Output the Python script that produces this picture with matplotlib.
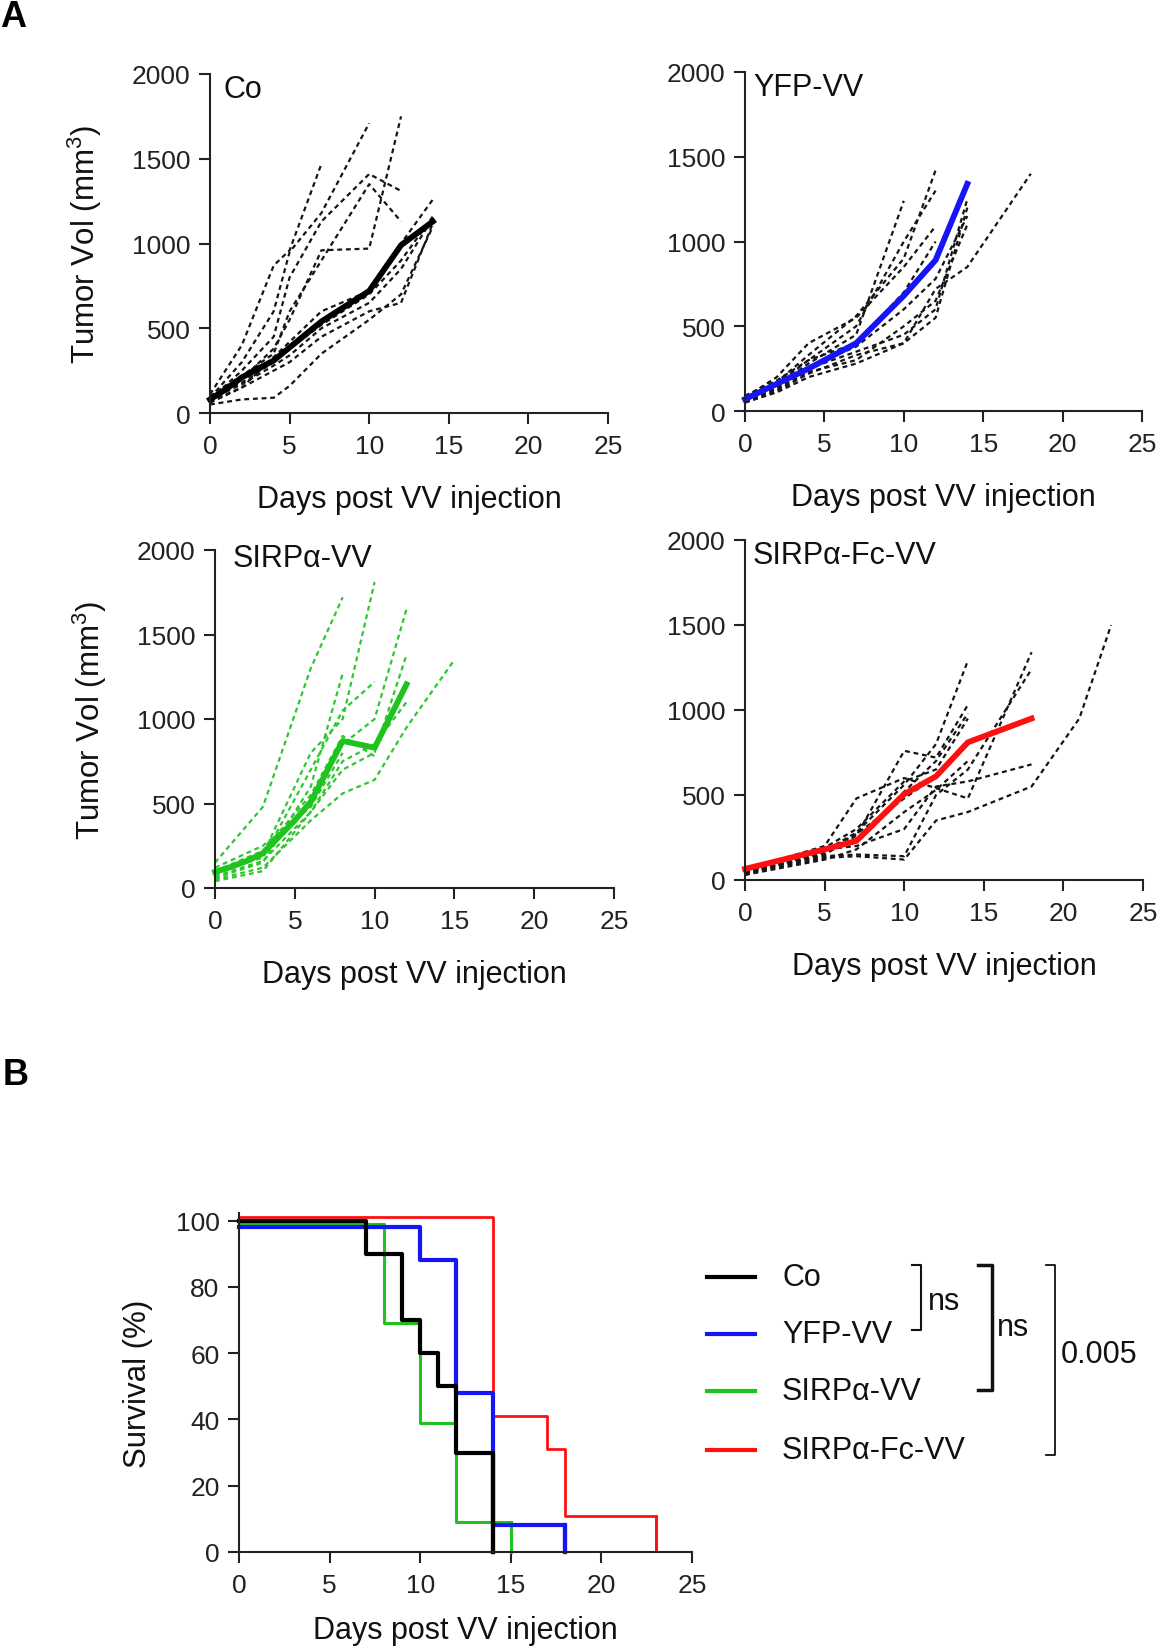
import numpy as np
import matplotlib
matplotlib.use("Agg")
import matplotlib.pyplot as plt

plt.rcParams['font.family'] = ['Liberation Sans', 'DejaVu Sans']
plt.rcParams['mathtext.fontset'] = 'custom'
plt.rcParams['mathtext.rm'] = 'Liberation Sans'
plt.rcParams['mathtext.it'] = 'Liberation Sans:italic'
plt.rcParams['mathtext.default'] = 'regular'

NAN = np.nan

# ---------------- Panel A data: tumour volume (mm^3) ----------------
co_days = [0, 2, 4, 5, 7, 10, 12, 14]
co_individual = [
    [110, 400, 870, 960, 1470, NAN, NAN, NAN],
    [90, 300, 600, 950, 1180, 1710, NAN, NAN],
    [80, 250, 450, 800, 1130, 1410, 1310, NAN],
    [70, 200, 380, 550, 960, 970, 1750, NAN],
    [100, 220, 350, 600, 900, 1350, 1130, NAN],
    [60, 150, 330, 420, 600, 720, 1000, 1260],
    [90, 180, 300, 380, 520, 700, 900, 1160],
    [70, 150, 250, 300, 450, 600, 650, 1120],
    [50, 80, 90, 160, 350, 550, 700, 1100],
    [80, 170, 280, 340, 500, 650, 850, 1150],
]
co_mean_days = [0, 1, 2, 4, 7, 10, 12, 14]
co_mean = [80, 140, 210, 310, 540, 720, 990, 1130]

yfp_days = [0, 2, 4, 7, 10, 12, 14, 18]
yfp_individual = [
    [70, 150, 280, 450, 1240, NAN, NAN, NAN],
    [60, 170, 330, 560, 900, 1420, NAN, NAN],
    [80, 200, 400, 550, 850, 1090, NAN, NAN],
    [70, 160, 300, 500, 1000, 1300, NAN, NAN],
    [90, 180, 300, 400, 700, 1000, NAN, NAN],
    [60, 140, 250, 350, 450, 600, 1250, NAN],
    [50, 120, 220, 330, 400, 550, 1200, NAN],
    [70, 150, 260, 380, 600, 780, 1150, NAN],
    [60, 130, 230, 300, 500, 650, 1100, NAN],
    [50, 110, 200, 280, 400, 720, 850, 1400],
]
yfp_mean_days = [0, 2, 4, 7, 10, 12, 14]
yfp_mean = [70, 160, 250, 400, 680, 890, 1340]

sirp_days = [0, 3, 6, 8, 10, 12, 15]
sirp_individual = [
    [150, 480, 1300, 1720, NAN, NAN, NAN],
    [100, 200, 800, 1000, 1810, NAN, NAN],
    [60, 150, 600, 1270, NAN, NAN, NAN],
    [90, 180, 700, 1050, 1220, NAN, NAN],
    [80, 200, 520, 850, 1000, 1650, NAN],
    [70, 160, 450, 700, 800, 1380, NAN],
    [50, 120, 400, 560, 640, 950, 1350],
    [100, 220, 550, 900, 780, NAN, NAN],
    [40, 100, 450, 750, 850, 1100, NAN],
    [120, 250, 480, 800, NAN, NAN, NAN],
]
sirp_mean_days = [0, 1, 2, 3, 5, 6, 8, 10, 12]
sirp_mean = [95, 125, 160, 205, 400, 510, 870, 830, 1205]

fc_days = [0, 5, 7, 10, 12, 14, 18, 21, 23]
fc_individual = [
    [30, 170, 280, 560, 800, 1290, NAN, NAN, NAN],
    [50, 150, 260, 760, 720, 1030, NAN, NAN, NAN],
    [40, 160, 230, 520, 700, 980, NAN, NAN, NAN],
    [60, 200, 480, 600, 540, 480, 1340, NAN, NAN],
    [50, 140, 150, 140, 500, 650, 1240, NAN, NAN],
    [40, 130, 140, 120, 350, 400, 550, 950, 1500],
    [50, 180, 200, 300, 550, 580, 680, NAN, NAN],
    [70, 190, 300, 580, 650, 950, NAN, NAN, NAN],
    [30, 120, 180, 400, 530, 700, NAN, NAN, NAN],
    [60, 170, 270, 480, 610, 800, NAN, NAN, NAN],
]
fc_mean_days = [0, 5, 7, 10, 12, 14, 18]
fc_mean = [65, 180, 230, 505, 610, 810, 950]

# ---------------- Panel B data: survival (%) as drawn ----------------
surv_co_t = [0, 7, 9, 10, 11, 12, 14]
surv_co = [100, 90, 70, 60, 50, 30, 0]
surv_yfp_t = [0, 10, 12, 14, 18]
surv_yfp = [98, 88, 48, 8, 0]
surv_sirp_t = [0, 8, 10, 12, 15]
surv_sirp = [99, 69, 39, 9, 0]
surv_fc_t = [0, 14, 17, 18, 23]
surv_fc = [101, 41, 31, 11, 1]

group_names = ["Co", "YFP-VV", "SIRP\u03b1-VV", "SIRP\u03b1-Fc-VV"]
colors = ["#000000", "#1515f5", "#1ec31e", "#ff1010"]

W, H = 1159, 1649
fig = plt.figure(figsize=(W / 100, H / 100), dpi=100)


def px_axes(l, r, t, b):
    return fig.add_axes([l / W, 1 - b / H, (r - l) / W, (b - t) / H])


def style(ax, ylim, yticks, fs):
    ax.set_xlim(0, 25)
    ax.set_ylim(*ylim)
    ax.set_xticks([0, 5, 10, 15, 20, 25])
    ax.set_yticks(yticks)
    for s in ["top", "right"]:
        ax.spines[s].set_visible(False)
    for s in ["left", "bottom"]:
        ax.spines[s].set_linewidth(1.5)
        ax.spines[s].set_color("#222222")
    ax.tick_params(direction="out", length=8, width=1.5, labelsize=fs,
                   colors="#222222", pad=6)
    ax.tick_params(axis="x", pad=7)


def tumor_panel(box, days, indiv, mdays, mean, col, dash_col, title, tx, ty, ylx):
    ax = px_axes(*box)
    style(ax, (0, 2000), [0, 500, 1000, 1500, 2000], 19)
    for row in indiv:
        ax.plot(days, row, color=dash_col, lw=1.6, ls=(0, (2.2, 1.7)), clip_on=False)
    ax.plot(mdays, mean, color=col, lw=4.2, clip_on=False, solid_joinstyle="round")
    ax.text(tx, ty, title, transform=ax.transAxes, fontsize=22, ha="left", va="top",
            color="#111111")
    ax.text(0.5, -0.277, "Days post VV injection", transform=ax.transAxes,
            fontsize=22, ha="center", va="baseline", color="#111111")
    if ylx is not None:
        ax.text(ylx, 0.5, "Tumor Vol (mm$^{3}$)", transform=ax.transAxes,
                fontsize=22.5, rotation=90, ha="center", va="center", color="#111111")
    return ax


tumor_panel((210, 608, 75, 414), co_days, co_individual, co_mean_days, co_mean,
            colors[0], "#151515", group_names[0], 0.033, 1.0, -0.315)
tumor_panel((745, 1142, 73, 412), yfp_days, yfp_individual, yfp_mean_days, yfp_mean,
            colors[1], "#151515", group_names[1], 0.02, 1.0, None)
tumor_panel((215, 614, 551, 889), sirp_days, sirp_individual, sirp_mean_days, sirp_mean,
            colors[2], "#2ec82e", group_names[2], 0.044, 1.02, -0.314)
tumor_panel((745, 1143, 541, 881), fc_days, fc_individual, fc_mean_days, fc_mean,
            colors[3], "#151515", group_names[3], 0.02, 1.0, None)

# ---------------- survival ----------------
axs = px_axes(239, 692, 1214, 1553)
style(axs, (0, 102.3), [0, 20, 40, 60, 80, 100], 19)
surv = [(surv_co_t, surv_co, 3.0), (surv_yfp_t, surv_yfp, 3.0),
        (surv_sirp_t, surv_sirp, 2.2), (surv_fc_t, surv_fc, 2.0)]
order = [3, 2, 1, 0]
for i in order:
    t, s, lw = surv[i]
    axs.step(t, s, where="post", color=colors[i], lw=lw, clip_on=False)
    axs.plot([t[-1], t[-1]], [s[-2], s[-1]], color=colors[i], lw=lw, clip_on=False)
axs.text(0.5, -0.255, "Days post VV injection", transform=axs.transAxes,
         fontsize=22, ha="center", va="baseline", color="#111111")
axs.text(-0.224, 0.5, "Survival (%)", transform=axs.transAxes, fontsize=22.5,
         rotation=90, ha="center", va="center", color="#111111")

# ---------------- overlay: legend, brackets, panel letters ----------------
ov = fig.add_axes([0, 0, 1, 1])
ov.set_xlim(0, W)
ov.set_ylim(H, 0)
ov.axis("off")

leg_y = [1278, 1335, 1392, 1451]
for i, name in enumerate(group_names):
    ov.plot([707, 755], [leg_y[i], leg_y[i]], color=colors[i], lw=3)
    ov.text(782, leg_y[i], name, fontsize=22, ha="left", va="center", color="#111111")


def bracket(x, y0, y1, tick, lw, label, lx, ly):
    ov.plot([x - tick, x, x, x - tick], [y0, y0, y1, y1], color="#111111", lw=lw)
    ov.text(lx, ly, label, fontsize=22, ha="left", va="center", color="#111111")


bracket(921, 1266, 1331, 9, 1.5, "ns", 928, 1302)
bracket(992, 1266, 1391, 14, 2.5, "ns", 997, 1328)
bracket(1055, 1266, 1456, 9, 1.3, "0.005", 1061, 1355)

ov.text(0, 0, "A", fontsize=26, fontweight="bold", ha="left", va="top")
ov.text(3, 1058, "B", fontsize=26, fontweight="bold", ha="left", va="top")

fig.savefig("out.png", dpi=100)
